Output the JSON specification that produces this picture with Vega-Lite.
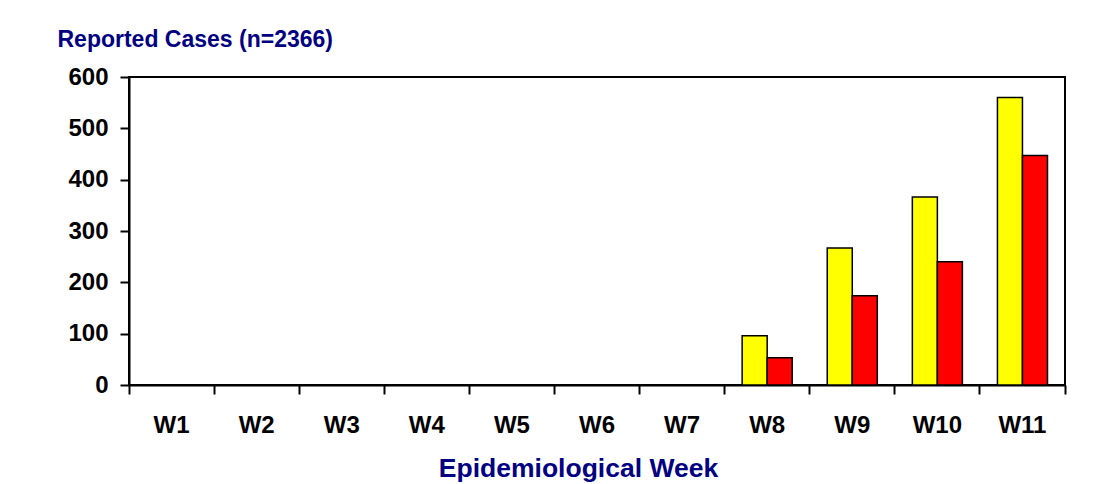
{
  "$schema": "https://vega.github.io/schema/vega-lite/v6.json",
  "autosize": {"type": "none"},
  "padding": {"left": 129, "top": 77, "right": 55, "bottom": 99},
  "width": 936,
  "height": 308,
  "background": "white",
  "config": {
    "font": "Liberation Sans",
    "view": {"stroke": "black", "strokeWidth": 2}
  },
  "data": {
    "values": [
      {"week": "W1", "series": "A", "cases": 0}, {"week": "W1", "series": "B", "cases": 0},
      {"week": "W2", "series": "A", "cases": 0}, {"week": "W2", "series": "B", "cases": 0},
      {"week": "W3", "series": "A", "cases": 0}, {"week": "W3", "series": "B", "cases": 0},
      {"week": "W4", "series": "A", "cases": 0}, {"week": "W4", "series": "B", "cases": 0},
      {"week": "W5", "series": "A", "cases": 0}, {"week": "W5", "series": "B", "cases": 0},
      {"week": "W6", "series": "A", "cases": 0}, {"week": "W6", "series": "B", "cases": 0},
      {"week": "W7", "series": "A", "cases": 0}, {"week": "W7", "series": "B", "cases": 0},
      {"week": "W8", "series": "A", "cases": 96}, {"week": "W8", "series": "B", "cases": 53},
      {"week": "W9", "series": "A", "cases": 267}, {"week": "W9", "series": "B", "cases": 174},
      {"week": "W10", "series": "A", "cases": 366}, {"week": "W10", "series": "B", "cases": 240},
      {"week": "W11", "series": "A", "cases": 560}, {"week": "W11", "series": "B", "cases": 447}
    ]
  },
  "mark": {"type": "bar", "stroke": "black", "strokeWidth": 1.5},
  "encoding": {
    "x": {
      "field": "week", "type": "nominal", "sort": null,
      "scale": {"paddingInner": 0, "paddingOuter": 0},
      "axis": {
        "title": "Epidemiological Week",
        "titleFontSize": 26.5, "titleFontWeight": "bold", "titleColor": "#000080",
        "titleAlign": "center", "titleBaseline": "alphabetic", "titleX": 449, "titleY": 91,
        "labelAngle": 0, "labelFontSize": 24, "labelFontWeight": "bold", "labelColor": "black",
        "labelBaseline": "alphabetic", "labelPadding": 38,
        "tickSize": 9, "tickColor": "black", "tickWidth": 2,
        "bandPosition": 1, "tickExtra": true,
        "domainColor": "black", "domainWidth": 2
      }
    },
    "xOffset": {
      "field": "series", "type": "nominal",
      "scale": {"paddingInner": 0, "paddingOuter": 0.7}
    },
    "y": {
      "field": "cases", "type": "quantitative",
      "scale": {"domain": [0, 600], "nice": false},
      "axis": {
        "values": [0, 100, 200, 300, 400, 500, 600],
        "grid": false,
        "title": "Reported Cases (n=2366)",
        "titleAngle": 0, "titleAlign": "left", "titleBaseline": "alphabetic",
        "titleX": -72, "titleY": -31,
        "titleFontSize": 23, "titleFontWeight": "bold", "titleColor": "#000080",
        "labelFontSize": 24, "labelFontWeight": "bold", "labelColor": "black",
        "labelPadding": 12, "tickSize": 9, "tickColor": "black", "tickWidth": 2,
        "domainColor": "black", "domainWidth": 2
      }
    },
    "color": {
      "field": "series", "type": "nominal",
      "scale": {"domain": ["A", "B"], "range": ["#FFFF00", "#FF0000"]},
      "legend": null
    }
  }
}
